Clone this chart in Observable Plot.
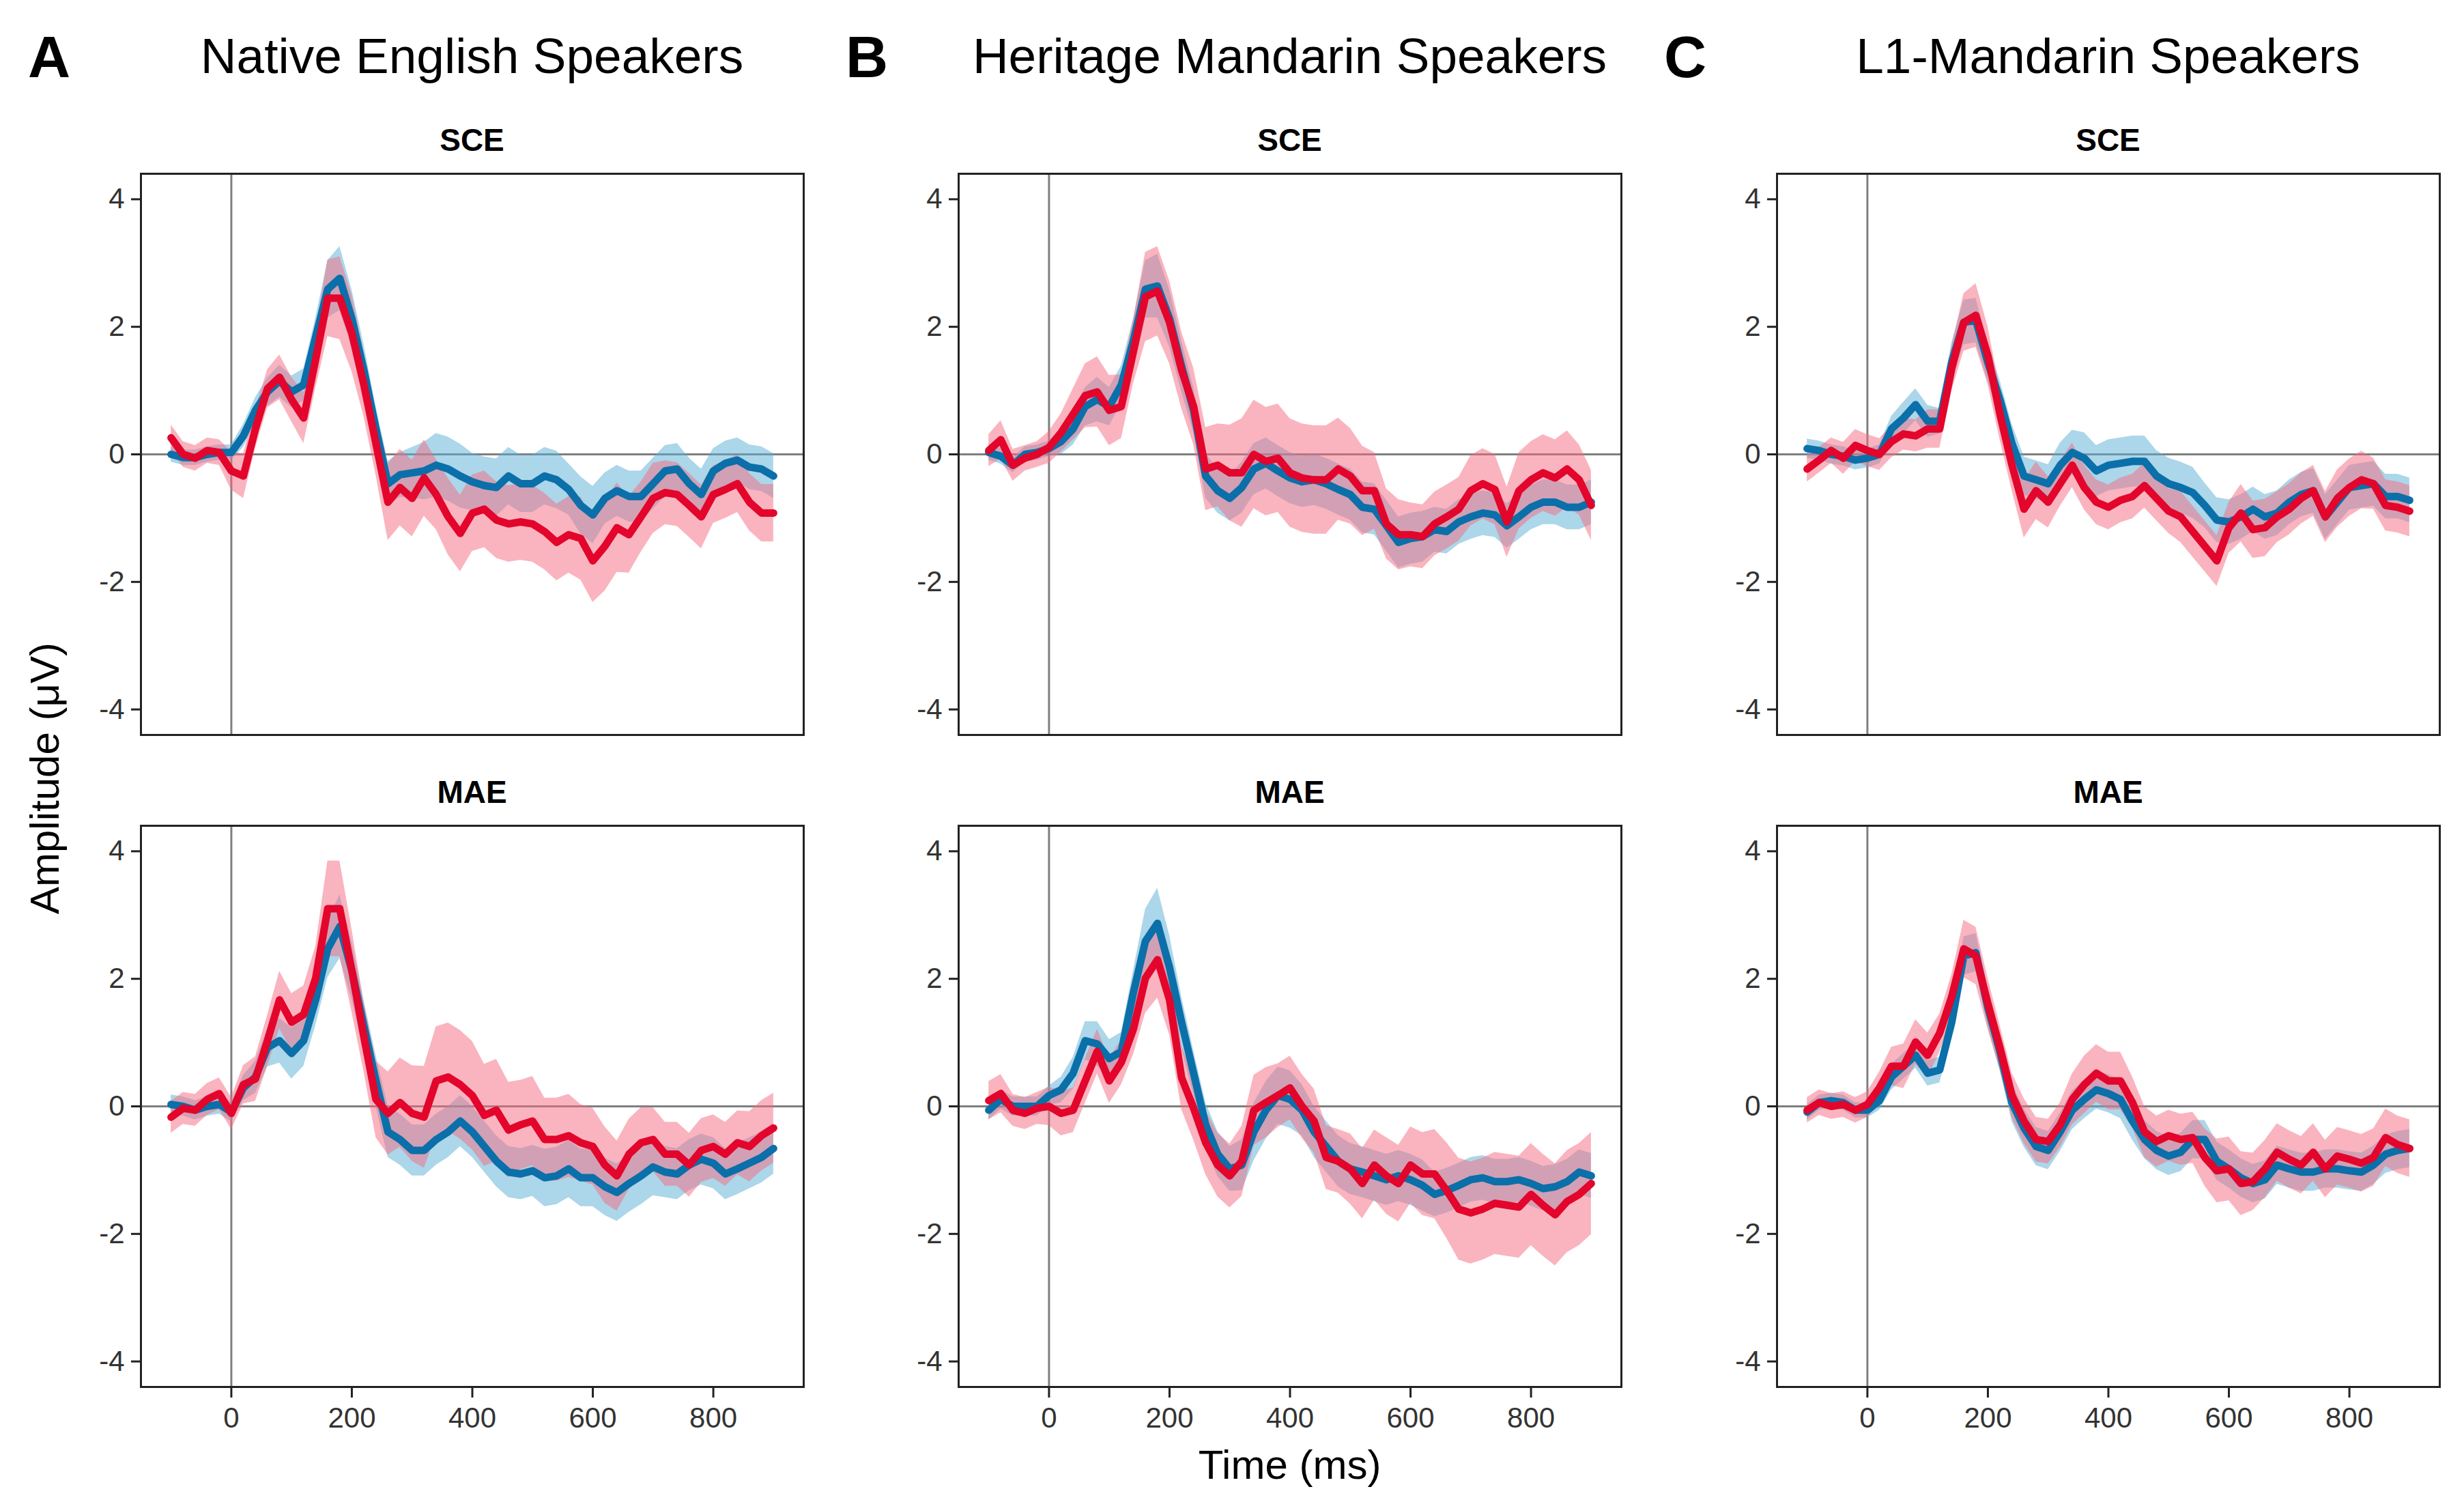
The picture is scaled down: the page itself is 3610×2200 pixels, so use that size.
<!DOCTYPE html>
<html><head><meta charset="utf-8">
<script src="https://cdn.jsdelivr.net/npm/d3@7"></script>
<script src="https://cdn.jsdelivr.net/npm/@observablehq/plot@0.6"></script>
<style>
html,body{margin:0;padding:0;background:#fff;}
#fig{position:relative;width:3610px;height:2200px;background:#fff;overflow:hidden;}
</style></head>
<body><div id="fig"></div>
<script>
// ---------- data ----------
const times = [-100,-80,-60,-40,-20,0,20,40,60,80,100,120,140,160,180,200,220,240,260,280,300,320,340,360,380,400,420,440,460,480,500,520,540,560,580,600,620,640,660,680,700,720,740,760,780,800,820,840,860,880,900];
const panelLetters = ["A","B","C"];
const groupTitles = ["Native English Speakers","Heritage Mandarin Speakers","L1-Mandarin Speakers"];
const conditions = ["SCE","MAE"];
const xTicks = [0,200,400,600,800];
const yTicks = [-4,-2,0,2,4];
const xLabel = "Time (ms)";
const yLabel = "Amplitude (μV)";

// Native English, SCE
const A_SCE_blue = [0.0,-0.05,-0.05,0,0.03,0.03, 0.29,0.69,0.98,1.15,0.98,1.09,1.84, 2.59,2.76,2.13,1.32, 0.40,-0.46,-0.32,-0.29,-0.26,-0.17, -0.23,-0.34,-0.43,-0.49,-0.52,-0.34,-0.46,-0.46,-0.34,-0.40,-0.55,-0.80,-0.95,-0.69,-0.57,-0.66,-0.66,-0.46,-0.26,-0.23,-0.46,-0.63,-0.26,-0.14,-0.09,-0.20,-0.23,-0.34];
const A_SCE_blue_ci = [0.12,0.12,0.12,0.12,0.12,0.12, 0.18,0.2,0.22,0.25,0.25,0.25,0.3, 0.45,0.5,0.45,0.4, 0.35,0.35,0.35,0.4,0.45,0.5, 0.5,0.5,0.45,0.45,0.45,0.45,0.45,0.45,0.45,0.45,0.4,0.45,0.45,0.4,0.4,0.4,0.4,0.4,0.4,0.4,0.4,0.4,0.35,0.35,0.35,0.35,0.35,0.35];
const A_SCE_red = [0.26,0,-0.06,0.06,0.03,-0.26, -0.34,0.40,1.03,1.21,0.86,0.57,1.49, 2.45,2.45,1.90,1.09, 0.17,-0.75,-0.52,-0.69,-0.37,-0.63, -0.98,-1.24,-0.92,-0.86,-1.03,-1.09,-1.06,-1.09,-1.21,-1.38,-1.26,-1.32,-1.67,-1.44,-1.15,-1.26,-0.98,-0.69,-0.60,-0.63,-0.80,-0.98,-0.63,-0.55,-0.46,-0.75,-0.92,-0.92];
const A_SCE_red_ci = [0.2,0.2,0.2,0.2,0.2,0.3, 0.35,0.3,0.3,0.35,0.35,0.4,0.45, 0.6,0.65,0.6,0.5, 0.5,0.6,0.6,0.6,0.6,0.55, 0.6,0.6,0.6,0.6,0.6,0.6,0.6,0.6,0.6,0.6,0.6,0.65,0.65,0.7,0.7,0.6,0.55,0.55,0.5,0.5,0.5,0.5,0.45,0.45,0.45,0.45,0.45,0.45];

// Heritage Mandarin, SCE
const B_SCE_blue = [0.03,-0.03,-0.17,0,0.03,0.09, 0.2,0.40,0.75,0.86,0.75,1.09,1.78, 2.59,2.64,2.13,1.38, 0.69,-0.34,-0.57,-0.69,-0.52,-0.23, -0.14,-0.26,-0.37,-0.43,-0.40,-0.46,-0.55,-0.63,-0.83,-0.86,-1.12,-1.38,-1.32,-1.29,-1.18,-1.21,-1.06,-0.98,-0.92,-0.95,-1.12,-0.98,-0.83,-0.75,-0.75,-0.83,-0.83,-0.75];
const B_SCE_blue_ci = [0.12,0.12,0.12,0.12,0.12,0.12, 0.2,0.25,0.3,0.35,0.3,0.3,0.35, 0.45,0.5,0.45,0.4, 0.35,0.35,0.35,0.35,0.4,0.4, 0.4,0.4,0.4,0.4,0.4,0.4,0.4,0.4,0.4,0.4,0.4,0.4,0.4,0.4,0.35,0.35,0.35,0.35,0.35,0.35,0.35,0.35,0.35,0.35,0.35,0.35,0.35,0.35];
const B_SCE_red = [0.06,0.23,-0.17,-0.06,0,0.11, 0.34,0.63,0.92,0.98,0.69,0.75,1.61, 2.47,2.56,2.07,1.32, 0.75,-0.23,-0.17,-0.29,-0.29,0, -0.11,-0.06,-0.29,-0.37,-0.40,-0.40,-0.23,-0.34,-0.57,-0.57,-1.09,-1.26,-1.26,-1.29,-1.09,-0.98,-0.86,-0.57,-0.46,-0.55,-1.06,-0.57,-0.40,-0.29,-0.37,-0.23,-0.40,-0.80];
const B_SCE_red_ci = [0.25,0.3,0.25,0.2,0.2,0.25, 0.3,0.4,0.5,0.55,0.55,0.5,0.5, 0.7,0.7,0.65,0.6, 0.6,0.65,0.65,0.75,0.85,0.85, 0.85,0.85,0.85,0.85,0.85,0.85,0.8,0.75,0.7,0.6,0.55,0.55,0.5,0.5,0.5,0.5,0.5,0.55,0.55,0.55,0.55,0.6,0.6,0.6,0.6,0.6,0.55,0.55];

// L1-Mandarin, SCE
const C_SCE_blue = [0.09,0.06,0,-0.03,-0.09,-0.06, 0,0.40,0.57,0.78,0.52,0.52,1.45, 2.07,2.10,1.44,0.86, 0.17,-0.34,-0.40,-0.46,-0.17,0.03, -0.06,-0.26,-0.17,-0.14,-0.11,-0.11,-0.34,-0.46,-0.52,-0.60,-0.80,-1.03,-1.06,-0.98,-0.86,-0.98,-0.92,-0.75,-0.63,-0.57,-0.98,-0.75,-0.52,-0.49,-0.46,-0.66,-0.66,-0.72];
const C_SCE_blue_ci = [0.15,0.15,0.15,0.15,0.15,0.15, 0.15,0.2,0.25,0.25,0.25,0.2,0.3, 0.35,0.35,0.3,0.3, 0.3,0.3,0.3,0.3,0.35,0.35, 0.4,0.4,0.4,0.4,0.4,0.4,0.4,0.4,0.4,0.4,0.35,0.35,0.35,0.35,0.35,0.35,0.35,0.35,0.35,0.35,0.35,0.35,0.35,0.35,0.35,0.35,0.35,0.35];
const C_SCE_red = [-0.23,-0.09,0.06,-0.06,0.14,0.06, 0,0.2,0.32,0.29,0.40,0.40,1.35, 2.07,2.18,1.55,0.63, -0.17,-0.86,-0.57,-0.75,-0.46,-0.17, -0.52,-0.75,-0.83,-0.72,-0.66,-0.49,-0.69,-0.89,-0.98,-1.21,-1.44,-1.67,-1.15,-0.92,-1.18,-1.15,-0.98,-0.86,-0.69,-0.57,-0.98,-0.69,-0.52,-0.40,-0.46,-0.80,-0.83,-0.89];
const C_SCE_red_ci = [0.2,0.2,0.2,0.25,0.25,0.25, 0.25,0.25,0.25,0.25,0.3,0.3,0.35, 0.45,0.5,0.45,0.4, 0.4,0.45,0.45,0.4,0.35,0.35, 0.35,0.35,0.35,0.35,0.35,0.35,0.35,0.35,0.4,0.4,0.4,0.4,0.4,0.45,0.45,0.45,0.4,0.4,0.4,0.4,0.4,0.45,0.45,0.45,0.4,0.4,0.4,0.4];

// Native English, MAE
const A_MAE_blue = [0.03,0,-0.06,0,0.03,-0.09, 0.29,0.46,0.92,1.03,0.83,1.03,1.67, 2.47,2.82,2.13,1.26, 0.40,-0.40,-0.52,-0.69,-0.69,-0.52, -0.40,-0.23,-0.40,-0.63,-0.86,-1.03,-1.06,-1.01,-1.12,-1.09,-0.98,-1.12,-1.12,-1.26,-1.35,-1.21,-1.09,-0.95,-1.03,-1.06,-0.92,-0.83,-0.89,-1.06,-0.98,-0.89,-0.80,-0.66];
const A_MAE_blue_ci = [0.15,0.15,0.15,0.15,0.15,0.15, 0.2,0.25,0.3,0.35,0.4,0.4,0.4, 0.45,0.5,0.45,0.4, 0.4,0.4,0.4,0.4,0.4,0.4, 0.4,0.4,0.4,0.4,0.4,0.4,0.4,0.4,0.45,0.45,0.45,0.45,0.45,0.45,0.45,0.45,0.45,0.45,0.4,0.4,0.4,0.4,0.4,0.4,0.4,0.4,0.4,0.4];
const A_MAE_red = [-0.17,-0.03,-0.06,0.11,0.20,-0.11, 0.34,0.43,1.03,1.67,1.32,1.44,2.01, 3.10,3.10,2.13,1.09, 0.11,-0.11,0.06,-0.11,-0.17,0.40, 0.46,0.34,0.17,-0.14,-0.06,-0.37,-0.29,-0.23,-0.52,-0.52,-0.46,-0.57,-0.63,-0.92,-1.09,-0.75,-0.57,-0.52,-0.75,-0.75,-0.92,-0.69,-0.63,-0.75,-0.57,-0.63,-0.46,-0.34];
const A_MAE_red_ci = [0.25,0.25,0.25,0.25,0.25,0.25, 0.3,0.35,0.4,0.45,0.45,0.45,0.5, 0.75,0.75,0.65,0.55, 0.6,0.65,0.7,0.75,0.8,0.85, 0.85,0.85,0.85,0.8,0.8,0.75,0.7,0.7,0.65,0.65,0.65,0.6,0.6,0.6,0.55,0.55,0.55,0.5,0.5,0.5,0.5,0.5,0.5,0.5,0.5,0.55,0.55,0.55];

// Heritage Mandarin, MAE
const B_MAE_blue = [-0.06,0.11,0,0,0,0.17, 0.26,0.52,1.03,0.98,0.75,0.86,1.78, 2.59,2.87,2.18,1.32, 0.52,-0.29,-0.75,-0.98,-0.92,-0.40, -0.06,0.17,0.11,-0.06,-0.40,-0.63,-0.86,-0.98,-1.03,-1.09,-1.15,-1.09,-1.15,-1.24,-1.38,-1.32,-1.24,-1.15,-1.12,-1.18,-1.18,-1.15,-1.21,-1.29,-1.26,-1.18,-1.03,-1.09];
const B_MAE_blue_ci = [0.15,0.15,0.15,0.15,0.15,0.15, 0.2,0.25,0.3,0.35,0.3,0.3,0.35, 0.5,0.55,0.5,0.4, 0.35,0.35,0.35,0.35,0.4,0.45, 0.45,0.45,0.45,0.4,0.4,0.4,0.4,0.4,0.4,0.4,0.4,0.4,0.4,0.4,0.35,0.35,0.35,0.35,0.35,0.35,0.35,0.35,0.35,0.35,0.35,0.35,0.35,0.35];
const B_MAE_red = [0.09,0.2,-0.06,-0.11,-0.03,0, -0.11,-0.06,0.40,0.86,0.40,0.69,1.21, 2.01,2.30,1.67,0.45, -0.03,-0.57,-0.92,-1.09,-0.86,-0.06, 0.06,0.17,0.29,0,-0.23,-0.80,-0.86,-0.98,-1.21,-0.92,-1.09,-1.21,-0.92,-1.06,-1.06,-1.32,-1.61,-1.67,-1.61,-1.52,-1.55,-1.58,-1.38,-1.55,-1.70,-1.49,-1.38,-1.21];
const B_MAE_red_ci = [0.3,0.3,0.25,0.25,0.25,0.3, 0.35,0.35,0.35,0.35,0.35,0.35,0.4, 0.55,0.6,0.55,0.5, 0.5,0.5,0.5,0.5,0.55,0.55, 0.55,0.5,0.5,0.5,0.5,0.5,0.5,0.55,0.55,0.55,0.6,0.6,0.6,0.65,0.7,0.75,0.8,0.8,0.8,0.8,0.8,0.8,0.8,0.8,0.8,0.8,0.8,0.8];

// L1-Mandarin, MAE
const C_MAE_blue = [-0.09,0.06,0.09,0.06,-0.06,-0.06, 0.09,0.46,0.63,0.80,0.52,0.57,1.32, 2.36,2.41,1.55,0.86, 0.06,-0.34,-0.63,-0.69,-0.40,-0.06, 0.11,0.26,0.20,0.11,-0.23,-0.52,-0.69,-0.78,-0.72,-0.52,-0.52,-0.86,-0.98,-1.12,-1.21,-1.15,-0.92,-0.98,-1.03,-1.03,-0.98,-0.98,-1.01,-1.03,-0.92,-0.75,-0.69,-0.66];
const C_MAE_blue_ci = [0.12,0.12,0.12,0.12,0.12,0.12, 0.15,0.2,0.2,0.2,0.2,0.2,0.25, 0.3,0.3,0.3,0.3, 0.3,0.3,0.3,0.3,0.3,0.3, 0.3,0.3,0.3,0.3,0.3,0.3,0.3,0.3,0.3,0.3,0.3,0.3,0.3,0.3,0.3,0.3,0.3,0.3,0.3,0.3,0.3,0.3,0.3,0.3,0.3,0.3,0.3,0.3];
const C_MAE_red = [-0.06,0.06,0,0.03,-0.06,0.03, 0.29,0.63,0.63,1.01,0.80,1.15,1.72, 2.47,2.36,1.61,0.92, 0.17,-0.23,-0.52,-0.55,-0.29,0.11, 0.34,0.52,0.40,0.40,0.06,-0.40,-0.55,-0.46,-0.52,-0.49,-0.80,-1.01,-0.98,-1.21,-1.18,-0.98,-0.72,-0.83,-0.92,-0.72,-0.98,-0.78,-0.83,-0.89,-0.80,-0.49,-0.60,-0.66];
const C_MAE_red_ci = [0.2,0.2,0.2,0.2,0.2,0.2, 0.25,0.3,0.35,0.35,0.35,0.3,0.35, 0.45,0.45,0.4,0.35, 0.35,0.35,0.35,0.35,0.35,0.4, 0.45,0.45,0.45,0.45,0.4,0.4,0.4,0.4,0.4,0.4,0.45,0.5,0.5,0.5,0.45,0.45,0.45,0.45,0.45,0.45,0.45,0.45,0.45,0.45,0.45,0.45,0.45,0.45];

// ---------- layout & style ----------
const FONT = "'Liberation Sans', Arial, Helvetica, sans-serif";
const BLUE = "#0b6fa9", RED = "#e3052b";
const BLUE_FILL = "#5aaed3", RED_FILL = "#f56a80";
const FW = 971, FH = 822;
const frameL = [206, 1404, 2603];
const frameT = [254, 1209];

const panels = [
  [[A_SCE_blue, A_SCE_blue_ci, A_SCE_red, A_SCE_red_ci], [A_MAE_blue, A_MAE_blue_ci, A_MAE_red, A_MAE_red_ci]],
  [[B_SCE_blue, B_SCE_blue_ci, B_SCE_red, B_SCE_red_ci], [B_MAE_blue, B_MAE_blue_ci, B_MAE_red, B_MAE_red_ci]],
  [[C_SCE_blue, C_SCE_blue_ci, C_SCE_red, C_SCE_red_ci], [C_MAE_blue, C_MAE_blue_ci, C_MAE_red, C_MAE_red_ci]]
];

const fig = document.getElementById("fig");
const rowsOf = (m, c) => times.map((t, i) => {
  const h = (c[i] ?? 0.3);
  return {t, m: m[i], lo: m[i] - h, hi: m[i] + h};
});

panels.forEach((col, ci) => {
  col.forEach((arrs, ri) => {
    const [bm, bc, rm, rc] = arrs;
    const b = rowsOf(bm, bc), r = rowsOf(rm, rc);
    const bottom = ri === 1;
    const mL = 150, mR = 15, mT = 15, mB = bottom ? 120 : 15;
    const marks = [
      Plot.ruleY([0], {stroke: "#000", strokeOpacity: 0.5, strokeWidth: 3}),
      Plot.ruleX([0], {stroke: "#000", strokeOpacity: 0.5, strokeWidth: 3}),
      Plot.areaY(b, {x: "t", y1: "lo", y2: "hi", fill: BLUE_FILL, fillOpacity: 0.5}),
      Plot.areaY(r, {x: "t", y1: "lo", y2: "hi", fill: RED_FILL, fillOpacity: 0.5}),
      Plot.lineY(b, {x: "t", y: "m", stroke: BLUE, strokeWidth: 11, strokeLinejoin: "round"}),
      Plot.lineY(r, {x: "t", y: "m", stroke: RED, strokeWidth: 11, strokeLinejoin: "round"}),
      Plot.frame({stroke: "#222", strokeWidth: 3}),
      Plot.axisY({ticks: yTicks, tickFormat: d => String(d), tickSize: 14, tickPadding: 10,
        stroke: "#222", strokeWidth: 3, fill: "#333", fontSize: 42, label: null})
    ];
    if (bottom) {
      marks.push(Plot.axisX({ticks: xTicks, tickFormat: d => String(d), tickSize: 16, tickPadding: 14,
        stroke: "#222", strokeWidth: 3, fill: "#333", fontSize: 42, label: null}));
    }
    const p = Plot.plot({
      width: FW + mL + mR, height: FH + mT + mB,
      marginLeft: mL, marginRight: mR, marginTop: mT, marginBottom: mB,
      x: {domain: [-150, 950], axis: null},
      y: {domain: [-4.4, 4.4], axis: null},
      style: {fontFamily: FONT, background: "transparent", overflow: "visible"},
      marks
    });
    p.style.position = "absolute";
    p.style.left = (frameL[ci] - mL) + "px";
    p.style.top = (frameT[ri] - mT) + "px";
    p.style.maxWidth = "none";
    fig.appendChild(p);
  });
});

// ---------- titles & axis labels ----------
const ov = d3.select(fig).append("svg")
  .attr("width", 3610).attr("height", 2200)
  .style("position", "absolute").style("left", "0px").style("top", "0px")
  .style("font-family", FONT).style("pointer-events", "none");

panelLetters.forEach((L, ci) => {
  ov.append("text").attr("x", frameL[ci] - 165).attr("y", 113)
    .attr("font-size", 86).attr("font-weight", "bold").attr("fill", "#000").text(L);
  ov.append("text").attr("x", frameL[ci] + FW / 2).attr("y", 107)
    .attr("text-anchor", "middle").attr("font-size", 73).attr("fill", "#000").text(groupTitles[ci]);
  conditions.forEach((c, ri) => {
    ov.append("text").attr("x", frameL[ci] + FW / 2).attr("y", frameT[ri] - 33)
      .attr("text-anchor", "middle").attr("font-size", 46).attr("font-weight", "bold")
      .attr("fill", "#000").text(c);
  });
});

ov.append("text").attr("x", frameL[1] + FW / 2).attr("y", 2166)
  .attr("text-anchor", "middle").attr("font-size", 60).attr("fill", "#000").text(xLabel);
ov.append("text").attr("transform", "translate(86,1140) rotate(-90)")
  .attr("text-anchor", "middle").attr("font-size", 60).attr("fill", "#000").text(yLabel);
</script>
</body></html>
